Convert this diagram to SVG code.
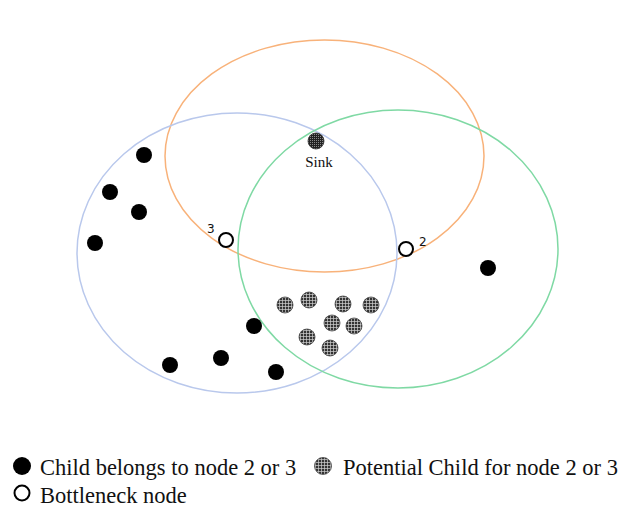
<svg xmlns="http://www.w3.org/2000/svg" width="622" height="511" viewBox="0 0 622 511">
<defs>
<pattern id="grid" width="3" height="3" patternUnits="userSpaceOnUse">
<rect width="3" height="3" fill="#333"/>
<path d="M0 0.5H3M0.5 0V3" stroke="#d0d0d0" stroke-width="0.7"/>
</pattern>
<pattern id="dots" width="2" height="2" patternUnits="userSpaceOnUse">
<rect width="2" height="2" fill="#222"/>
<rect width="1" height="1" fill="#888"/>
</pattern>
</defs>
<style>
.ring{fill:none;stroke-width:1.5}
.child{fill:#000}
.pot{fill:url(#grid);stroke:#444;stroke-width:0.8}
.bn{fill:#fff;stroke:#000;stroke-width:2}
.lbl{font-family:"Liberation Serif",serif;fill:#111}
.sup{font-family:"DejaVu Sans",sans-serif;font-size:12px;fill:#111}
</style>
<g id="regions">
<ellipse id="range-sink" class="ring" cx="324.5" cy="156" rx="159.5" ry="116" stroke="#f8b27a"/>
<ellipse id="range-node3" class="ring" cx="237" cy="253" rx="160" ry="140" stroke="#b9c8ec"/>
<ellipse id="range-node2" class="ring" cx="398" cy="249" rx="160" ry="139" stroke="#7fd9a4"/>
</g>
<g id="connectors"></g>
<g id="sink">
<circle cx="316" cy="141" r="8" fill="url(#dots)" stroke="#333" stroke-width="0.8"/>
<text class="lbl" x="319" y="167" font-size="15" text-anchor="middle">Sink</text>
</g>
<g id="node3">
<circle class="bn" cx="226" cy="240" r="7"/>
<text class="sup" x="207" y="233">3</text>
</g>
<g id="node2">
<circle class="bn" cx="406" cy="249" r="7"/>
<text class="sup" x="419" y="246">2</text>
</g>
<g id="children">
<circle class="child" cx="144" cy="155" r="8"/>
<circle class="child" cx="110" cy="192" r="8"/>
<circle class="child" cx="139" cy="212" r="8"/>
<circle class="child" cx="95" cy="243" r="8"/>
<circle class="child" cx="254" cy="326" r="8"/>
<circle class="child" cx="170" cy="365" r="8"/>
<circle class="child" cx="221" cy="358" r="8"/>
<circle class="child" cx="276" cy="372" r="8"/>
<circle class="child" cx="488" cy="268" r="8"/>
</g>
<g id="potential">
<circle class="pot" cx="285" cy="305" r="8"/>
<circle class="pot" cx="309" cy="300" r="8"/>
<circle class="pot" cx="343" cy="304" r="8"/>
<circle class="pot" cx="371" cy="305" r="8"/>
<circle class="pot" cx="332" cy="323" r="8"/>
<circle class="pot" cx="354" cy="326" r="8"/>
<circle class="pot" cx="307" cy="337" r="8"/>
<circle class="pot" cx="330" cy="348" r="8"/>
</g>
<g id="legend">
<circle class="child" cx="22" cy="466" r="9"/>
<text class="lbl" x="40" y="475" font-size="22.5">Child belongs to node 2 or 3</text>
<circle class="pot" cx="323" cy="466" r="8.5"/>
<text class="lbl" x="343" y="475" font-size="22.5">Potential Child for node 2 or 3</text>
<circle class="bn" cx="22" cy="493" r="7.5" stroke-width="3"/>
<text class="lbl" x="40" y="503" font-size="22.5">Bottleneck node</text>
</g>
</svg>
